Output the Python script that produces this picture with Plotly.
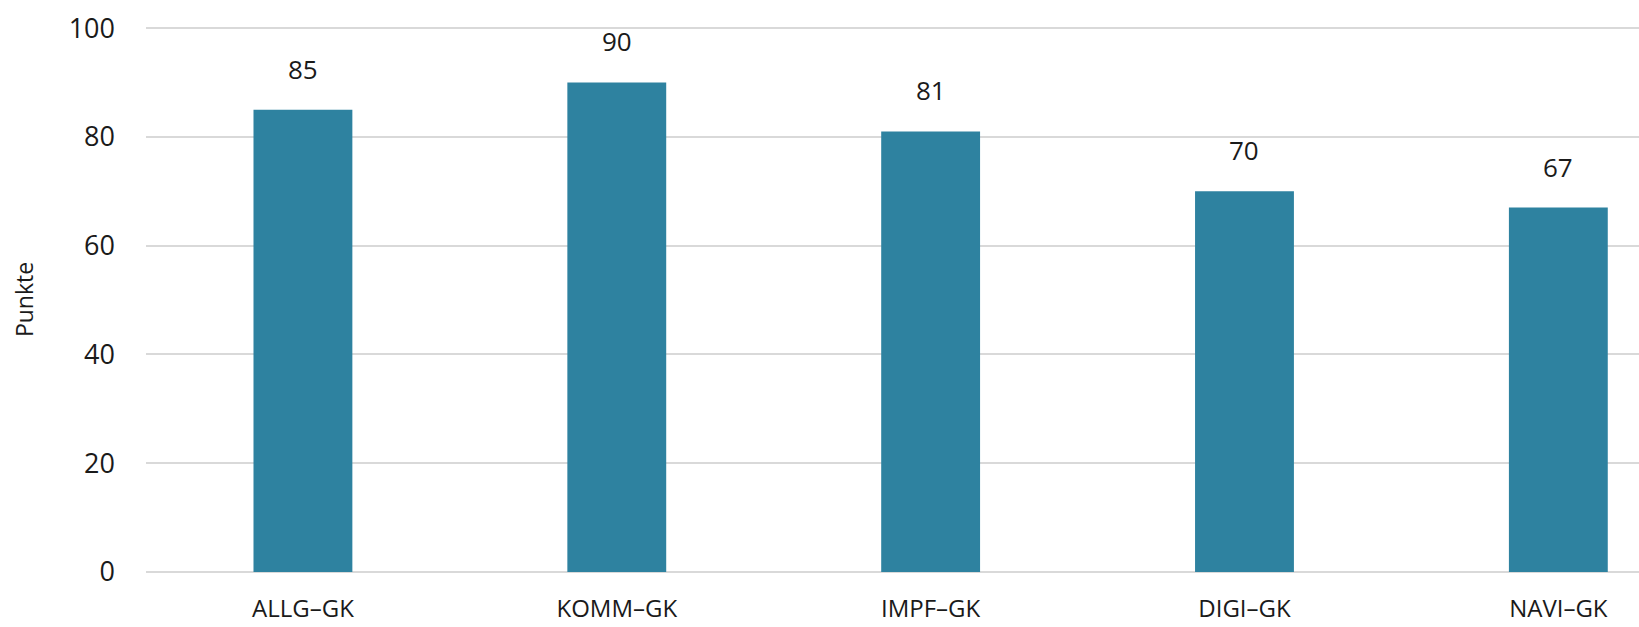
import plotly.graph_objects as go

categories = ["ALLG–GK", "KOMM–GK", "IMPF–GK", "DIGI–GK", "NAVI–GK"]
punkte = [85, 90, 81, 70, 67]
y_ticks = [0, 20, 40, 60, 80, 100]

bar_color = "#2e82a0"
grid_color = "#d9d9d9"
text_color = "#1a1a1a"
font_family = "Open Sans, Lato, sans-serif"

fig = go.Figure()
fig.add_trace(go.Bar(
    x=list(range(len(categories))),
    y=punkte,
    marker=dict(color=bar_color, line=dict(width=0)),
    width=0.315,
    hoverinfo="skip",
))

# value labels above each bar
for i, v in enumerate(punkte):
    fig.add_annotation(
        x=i, y=v, text=str(v), showarrow=False,
        yanchor="bottom", yshift=21,
        font=dict(size=26, color=text_color, family=font_family),
    )

fig.update_layout(
    width=1639, height=627,
    margin=dict(l=146, r=0, t=27, b=55),
    paper_bgcolor="white", plot_bgcolor="white",
    showlegend=False,
    font=dict(family=font_family, size=24, color=text_color),
    xaxis=dict(
        range=[-0.5, 4.257],
        tickmode="array",
        tickvals=list(range(len(categories))),
        ticktext=categories,
        showgrid=False, zeroline=False, showline=False,
        ticks="", ticklabelstandoff=20,
        tickfont=dict(size=24, color=text_color),
    ),
    yaxis=dict(
        range=[0, 100.2],
        tickmode="array", tickvals=y_ticks,
        showgrid=True, gridcolor=grid_color, gridwidth=2,
        zeroline=True, zerolinecolor=grid_color, zerolinewidth=2,
        showline=False, ticks="", ticklabelstandoff=30,
        tickfont=dict(size=27, color=text_color),
        title=dict(text="Punkte", font=dict(size=23, color=text_color), standoff=28),
    ),
)

fig.write_html("out.html")
